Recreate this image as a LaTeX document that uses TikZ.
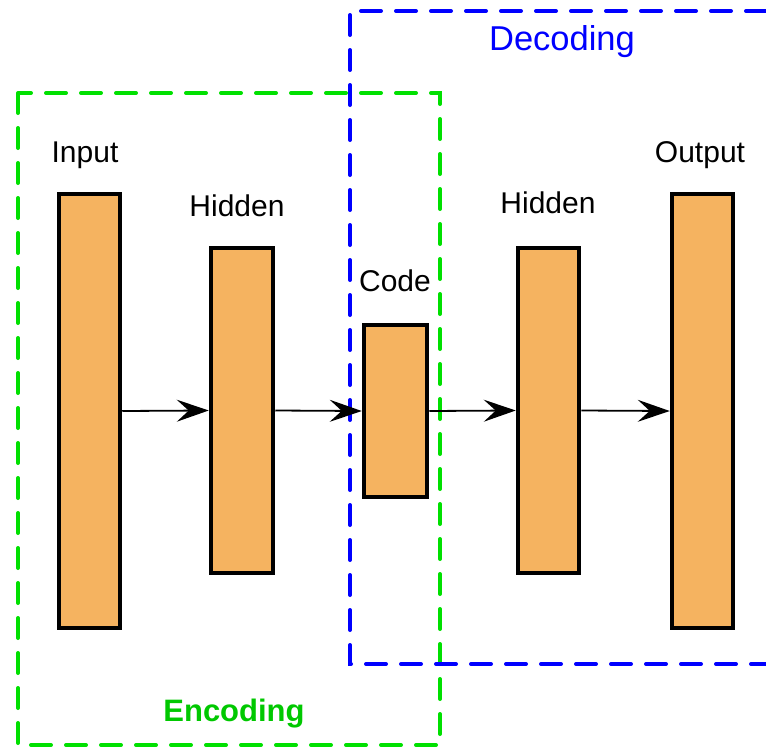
\documentclass[tikz,border=0pt]{standalone}
\usepackage{fontspec}
\setmainfont{Liberation Sans}
\usetikzlibrary{arrows.meta}
\definecolor{boxfill}{HTML}{F5B360}
\definecolor{encgreen}{HTML}{00E000}
\definecolor{enctext}{HTML}{00C800}
\definecolor{decblue}{HTML}{0000FF}
\tikzset{
  layer/.style={draw=black, line width=4.5pt, fill=boxfill, inner sep=0},
  lbl/.style={font=\fontsize{30}{34}\selectfont, text=black},
  conn/.style={line width=1.8pt, -{Stealth[length=32pt,width=22pt,inset=12pt]}},
  groupbox/.style={line width=4pt, dash pattern=on 20pt off 15pt, line cap=round},
}
\begin{document}
\begin{tikzpicture}[x=1pt,y=-1pt]
\useasboundingbox (0,0) rectangle (766,747);
% groups
\draw[groupbox, encgreen] (18,93) rectangle (440,745);
\draw[groupbox, decblue] (766,11) -- (350,11) -- (350,664) -- (766,664);
% layers
\node[layer, minimum width=61pt, minimum height=434pt] (in) at (89.5,411) {};
\node[layer, minimum width=62pt, minimum height=325pt] (h1) at (242,410.5) {};
\node[layer, minimum width=63pt, minimum height=172pt] (code) at (395.5,411) {};
\node[layer, minimum width=61pt, minimum height=325pt] (h2) at (548.5,410.5) {};
\node[layer, minimum width=61pt, minimum height=434pt] (out) at (702.5,411) {};
% labels
\node[lbl] (tin) at (85,155) {Input};
\node[lbl] (th1) at (237,206) {Hidden};
\node[lbl] (tcode) at (395,281) {Code};
\node[lbl] (th2) at (548,203) {Hidden};
\node[lbl] (tout) at (700,155) {Output};
\node[font=\fontsize{34.5}{38}\selectfont, text=decblue] (tdec) at (562,42) {Decoding};
\node[font=\bfseries\fontsize{31}{35}\selectfont, text=enctext] (tenc) at (234,714) {Encoding};
% connectors
\draw[conn] (in.east) -- (h1.west);
\draw[conn] (h1.east) -- (code.west);
\draw[conn] (code.east) -- (h2.west);
\draw[conn] (h2.east) -- (out.west);
\end{tikzpicture}
\end{document}
